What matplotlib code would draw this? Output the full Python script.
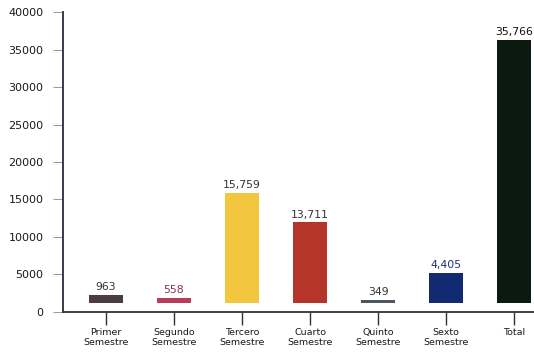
import numpy as np
import matplotlib
matplotlib.use("Agg")
import matplotlib.pyplot as plt

# data
categories = ["Primer\nSemestre", "Segundo\nSemestre", "Tercero\nSemestre", "Cuarto\nSemestre",
              "Quinto\nSemestre", "Sexto\nSemestre", "Total"]
value_labels = ["963", "558", "15,759", "13,711", "349", "4,405", "35,766"]
# bars in the original float on a base and do not match their labels exactly
bar_base = 1200
bar_tops = [2200, 1850, 15850, 11950, 1580, 5150, 36300]
yticks = [0, 5000, 10000, 15000, 20000, 25000, 30000, 35000, 40000]

bar_colors = ["#4a3c40", "#b83c5c", "#f3c640", "#b5352a", "#4e5660", "#112a72", "#0b1a10"]
label_colors = ["#333333", "#8c3048", "#333333", "#333333", "#333333", "#1c2f78", "#111111"]

x = np.arange(len(categories))
heights = [t - bar_base for t in bar_tops]

fig = plt.figure(figsize=(5.34, 3.56), dpi=100)
ax = fig.add_axes([0.118, 0.125, 0.882, 0.8404])

ax.bar(x, heights, bottom=bar_base, width=0.5, color=bar_colors)

for xi, top, txt, c in zip(x, bar_tops, value_labels, label_colors):
    ax.text(xi, top + 350, txt, ha="center", va="bottom", fontsize=7.8, color=c)

ax.set_xlim(-0.63, 6.29)
ax.set_ylim(0, 40000)
ax.set_yticks(yticks)
ax.set_yticklabels([str(v) for v in yticks], fontsize=8, color="#1a1a1a")
ax.set_xticks(x)
ax.set_xticklabels(categories, fontsize=6.8, color="#1a1a1a", linespacing=1.1)

for s in ["top", "right"]:
    ax.spines[s].set_visible(False)
ax.spines["left"].set_color("#2a2a40")
ax.spines["bottom"].set_color("#333333")
ax.spines["left"].set_linewidth(1.3)
ax.spines["bottom"].set_linewidth(1.3)
ax.tick_params(axis="y", length=7, width=0.6, color="#888888", pad=7)
ax.tick_params(axis="x", length=9, width=1, color="#333333", pad=3)

fig.savefig("out.png", dpi=100)
